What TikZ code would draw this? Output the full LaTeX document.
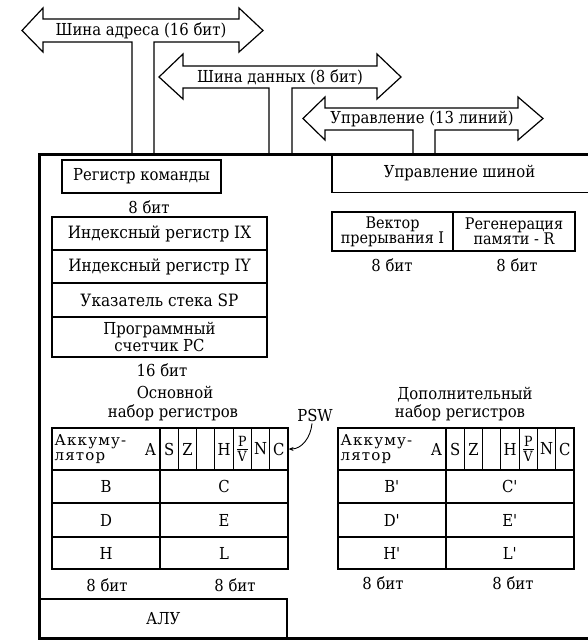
\documentclass[tikz,border=0pt]{standalone}
\usepackage{fontspec}
\setmainfont[FakeStretch=0.9]{DejaVu Serif}
\newfontfamily\accfont[LetterSpace=8]{DejaVu Serif}
\usetikzlibrary{arrows.meta}
\tikzset{
  x=1pt, y=-1pt,
  thin line/.style={line width=1.2pt},
  txt/.style={font=\fontsize{16.5}{17}\selectfont, inner sep=0pt},
  cell/.style={draw, thin line, inner sep=0pt, font=\fontsize{16.5}{17}\selectfont, align=center},
  bus/.style={draw, line width=1.2pt, line join=miter},
}
\begin{document}
\begin{tikzpicture}
\useasboundingbox (0,0) rectangle (587,640);

% main CPU frame (right edge lies beyond the picture)
\node[draw, line width=3pt, inner sep=0pt, minimum width=555.5pt, minimum height=484pt] (cpu) at (317.25,396.5) {};

% ---- address bus
\coordinate (ab1) at (132,154.5);
\coordinate (ab2) at (154,154.5);
\draw[bus] (ab1) -- (132,42) -- (43,42) -- (43,52) -- (22,30.5) -- (43,8) -- (43,19) -- (239,19) -- (239,8) -- (263,30.5) -- (239,52) -- (239,42) -- (154,42) -- (ab2);
\node[txt] (abl) at (141,30.5) {Шина адреса (16 бит)};

% ---- data bus
\coordinate (db1) at (269,154.5);
\coordinate (db2) at (292,154.5);
\draw[bus] (db1) -- (269,88) -- (183,88) -- (183,99) -- (159,77) -- (183,54) -- (183,66) -- (377,66) -- (377,54) -- (401,77) -- (377,99) -- (377,88) -- (292,88) -- (db2);
\node[txt] (dbl) at (280,77) {Шина данных (8 бит)};

% ---- control bus
\coordinate (cb1) at (413,154.5);
\coordinate (cb2) at (435,154.5);
\draw[bus] (cb1) -- (413,130) -- (325,130) -- (325,140) -- (303,118.5) -- (325,97) -- (325,108) -- (518,108) -- (518,97) -- (543,118.5) -- (518,140) -- (518,130) -- (435,130) -- (cb2);
\node[txt] (cbl) at (422,118.5) {Управление (13 линий)};

% ---- bus control
\node[cell, minimum width=258pt, minimum height=38pt] (busctl) at (461,173.5) {};
\node[txt] (busctlt) at (459.5,173) {Управление шиной};

% ---- left column
\node[cell, minimum width=159pt, minimum height=33pt] (cmd) at (141.5,176.5) {Регистр команды};
\node[txt] (cmdb) at (149,207) {8 бит};
\node[cell, minimum width=215pt, minimum height=33pt, font=\fontsize{17}{17}\selectfont] (ix) at (159.5,233.5) {Индексный регистр IX};
\node[cell, minimum width=215pt, minimum height=33pt, font=\fontsize{17}{17}\selectfont] (iy) at (159.5,266.5) {Индексный регистр IY};
\node[cell, minimum width=215pt, minimum height=34pt, font=\fontsize{17}{17}\selectfont] (sp) at (159.5,300) {Указатель стека SP};
\node[cell, minimum width=215pt, minimum height=40pt] (pc) at (159.5,337) {Программный\\счетчик PC};
\node[txt] (pcb) at (162,370) {16 бит};
\node[txt] (main1) at (175,392) {Основной};
\node[txt] (main2) at (173,413) {набор регистров};

% ---- vector / regeneration
\node[cell, minimum width=121pt, minimum height=39pt, font=\fontsize{16}{15}\selectfont] (vec) at (392.5,231.5) {Вектор\\прерывания I};
\node[cell, minimum width=122pt, minimum height=39pt, font=\fontsize{16}{15}\selectfont] (regen) at (514,231.5) {Регенерация\\памяти - R};
\node[txt] (vecb) at (392,265) {8 бит};
\node[txt] (regenb) at (517,265) {8 бит};

\node[txt] (alt1) at (465,395) {Дополнительный};
\node[txt] (alt2) at (460,413) {набор регистров};

% ---- register tables
% #1 prefix, #2 left x, #3 prime mark
\newcommand{\regtab}[3]{%
  \node[cell, minimum width=108pt, minimum height=42pt] (#1acc) at (#2+54,449) {};
  \node[anchor=west, align=left, inner sep=0pt, font=\accfont\fontsize{15}{15}\selectfont] (#1acct) at ([xshift=3pt]#1acc.west) {Аккуму-\\лятор};
  \node[txt] (#1acca) at ([xshift=-10pt]#1acc.east) {A};
  \foreach \i/\f in {0/S,1/Z,2/{},3/H,5/N,6/C}{
    \node[cell, minimum width=18.286pt, minimum height=42pt] (#1f\i) at (#2+108+9.143+\i*18.286,449) {\f};
  }
  \node[cell, minimum width=18.286pt, minimum height=42pt, font=\fontsize{14}{13}\selectfont] (#1f4) at (#2+108+9.143+4*18.286,449) {\shortstack{P\\[-1pt]\rule{11pt}{0.9pt}\\[-1pt]V}};
  \node[cell, minimum width=108pt, minimum height=33pt] (#1b) at (#2+54,486.5) {B#3};
  \node[cell, minimum width=128pt, minimum height=33pt] (#1c) at (#2+172,486.5) {C#3};
  \node[cell, minimum width=108pt, minimum height=34pt] (#1d) at (#2+54,520) {D#3};
  \node[cell, minimum width=128pt, minimum height=34pt] (#1e) at (#2+172,520) {E#3};
  \node[cell, minimum width=108pt, minimum height=32pt] (#1h) at (#2+54,553) {H#3};
  \node[cell, minimum width=128pt, minimum height=32pt] (#1l) at (#2+172,553) {L#3};
}
\regtab{m}{52}{}
\regtab{a}{338}{\textquotesingle}

\node[txt] (mb1) at (107,585) {8 бит};
\node[txt] (mb2) at (235,585) {8 бит};
\node[txt] (ab1t) at (383,583) {8 бит};
\node[txt] (ab2t) at (513,583) {8 бит};

% ---- PSW pointer
\node[txt] (psw) at (315,415) {PSW};
\draw[line width=0.9pt, -{Stealth[length=5pt,width=4pt]}] ([xshift=-3pt,yshift=-2pt]psw.south) to[out=-95, in=0] (mf6.east);

% ---- ALU
\node[cell, minimum width=247.5pt, minimum height=39.5pt] (alu) at (163.25,618.75) {АЛУ};
\end{tikzpicture}
\end{document}
